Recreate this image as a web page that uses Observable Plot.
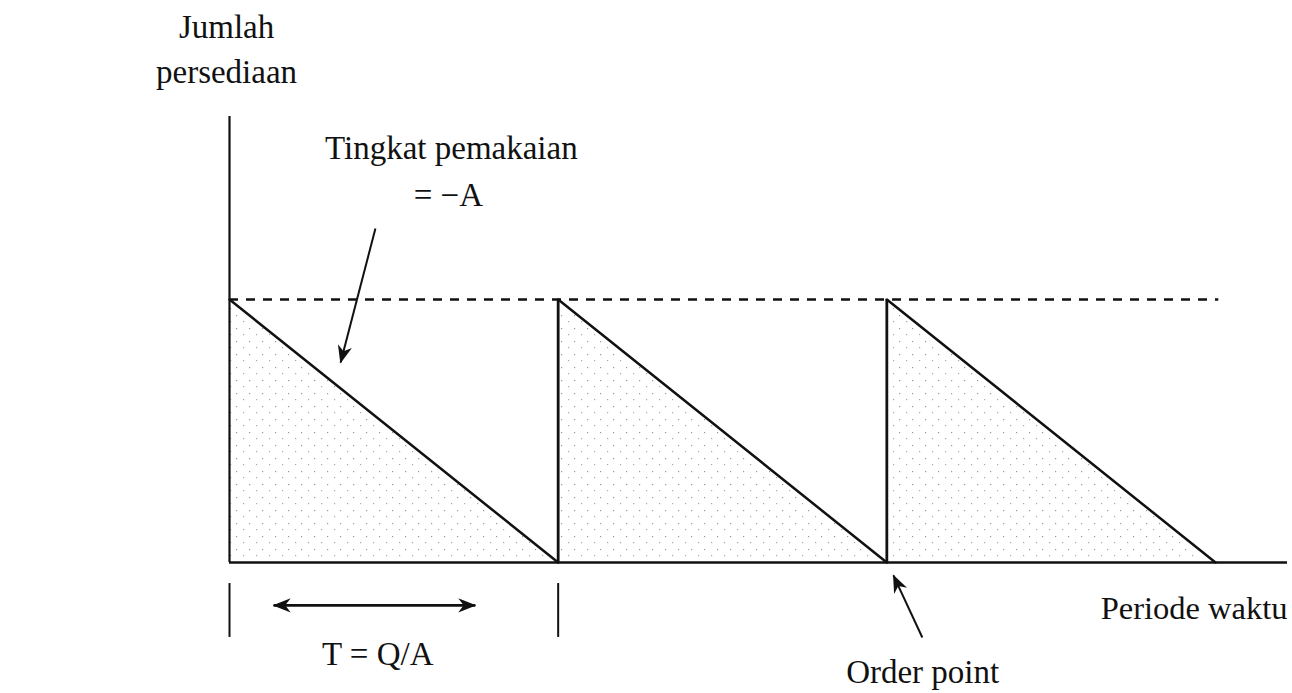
<!DOCTYPE html>
<html><head><meta charset="utf-8">
<script src="https://cdn.jsdelivr.net/npm/d3@7"></script>
<script src="https://cdn.jsdelivr.net/npm/@observablehq/plot@0.6"></script>
<style>body{margin:0;background:#fff}</style>
</head><body><div id="chart"></div>
<script>
// ---- data (units: time in T = Q/A, stock in Q) ----
const cycleStarts = [0, 1, 2];          // each order cycle starts here
const orderQty = 1;                      // Q (maximum stock)
const cycleLength = 1;                   // T = Q/A
const axisTop = 1.696;                   // extent of the stock axis
const axisEnd = 3.219;                   // extent of the time axis
const dashedEnd = 3.01;                  // extent of the Q reference line
const periodTicks = [0, 1];              // bracket marks under the first cycle
const periodTickSpan = [-0.08, -0.285];

const labelText = ["Jumlah", "persediaan", "Tingkat pemakaian", "= \u2212A", "T = Q/A", "Order point", "Periode waktu"];
const labelX    = [-0.009, -0.009, 0.675, 0.666, 0.451, 2.109, 3.219];
const labelY    = [1.996, 1.825, 1.536, 1.357, -0.388, -0.460, -0.213];
const labelEnd  = [false, false, false, false, false, false, true];

// single-headed pointers (tail -> head)
const pointerX1 = [0.444, 2.108];
const pointerY1 = [1.270, -0.285];
const pointerX2 = [0.338, 2.020];
const pointerY2 = [0.760, -0.049];
// double-headed span for one period
const spanX = [0.134, 0.748];
const spanY = -0.163;

// ---- tables built from the arrays ----
const saw = cycleStarts.flatMap(c => [
  {cycle: c, t: c, q: orderQty},
  {cycle: c, t: c + cycleLength, q: 0}
]);
const labels = labelText.map((text, i) => ({text, x: labelX[i], y: labelY[i], end: labelEnd[i]}));
const pointers = pointerX1.map((x1, i) => ({x1, y1: pointerY1[i], x2: pointerX2[i], y2: pointerY2[i]}));
const spans = [{x1: spanX[0], x2: spanX[1], y: spanY}];
const font = "Liberation Serif, DejaVu Serif, serif";
const ink = "#111";

const svg = Plot.plot({
  width: 1292,
  height: 693,
  x: {domain: [0, 3], range: [229, 1215], axis: null},
  y: {domain: [0, 1], range: [562, 299], axis: null},
  style: {background: "#fff", fontFamily: font},
  marks: [
    Plot.areaY(saw, {x: "t", y: "q", z: "cycle", fill: "url(#stipple)"}),
    Plot.ruleY([orderQty], {x1: 0, x2: dashedEnd, stroke: ink, strokeWidth: 2.6, strokeDasharray: "9,8"}),
    Plot.ruleX([0], {y1: 0, y2: axisTop, stroke: ink, strokeWidth: 2.2}),
    Plot.ruleY([0], {x1: 0, x2: axisEnd, stroke: ink, strokeWidth: 2.6}),
    Plot.ruleX(cycleStarts.filter(c => c > 0), {y1: 0, y2: orderQty, stroke: ink, strokeWidth: 2.8}),
    Plot.line(saw, {x: "t", y: "q", z: "cycle", stroke: ink, strokeWidth: 2.5}),
    Plot.ruleX(periodTicks, {y1: periodTickSpan[0], y2: periodTickSpan[1], stroke: ink, strokeWidth: 2}),
    Plot.link(pointers, {x1: "x1", y1: "y1", x2: "x2", y2: "y2", stroke: ink, strokeWidth: 2}),
    Plot.link(spans, {x1: "x1", y1: "y", x2: "x2", y2: "y", stroke: ink, strokeWidth: 2.6}),
    Plot.text(labels.filter(d => !d.end), {x: "x", y: "y", text: "text", textAnchor: "middle", lineAnchor: "bottom", fontSize: 33, fontFamily: font, fill: ink}),
    Plot.text(labels.filter(d => d.end), {x: "x", y: "y", text: "text", textAnchor: "end", lineAnchor: "bottom", fontSize: 32.5, fontFamily: font, fill: ink})
  ]
});

// stipple pattern and filled arrowheads
const defs = d3.select(svg).insert("defs", ":first-child");
const pat = defs.append("pattern").attr("id", "stipple").attr("patternUnits", "userSpaceOnUse")
  .attr("width", 13).attr("height", 13);
pat.append("rect").attr("x", 2).attr("y", 3).attr("width", 1.2).attr("height", 1.2).attr("fill", "#999");
pat.append("rect").attr("x", 9).attr("y", 9).attr("width", 1.2).attr("height", 1.2).attr("fill", "#aaa");

defs.append("marker").attr("id", "head").attr("viewBox", "0 0 10 8")
  .attr("refX", 9.5).attr("refY", 4)
  .attr("markerUnits", "userSpaceOnUse").attr("markerWidth", 18).attr("markerHeight", 14.4)
  .attr("orient", "auto-start-reverse")
  .append("path").attr("d", "M0,0 L10,4 L0,8 L3,4 Z").attr("fill", ink);

const linkGroups = d3.select(svg).selectAll('g[aria-label="link"]').nodes();
d3.select(linkGroups[0]).selectAll("path").attr("marker-end", "url(#head)");
d3.select(linkGroups[1]).selectAll("path")
  .attr("marker-end", "url(#head)").attr("marker-start", "url(#head)");

document.getElementById("chart").appendChild(svg);
</script>
</body></html>
